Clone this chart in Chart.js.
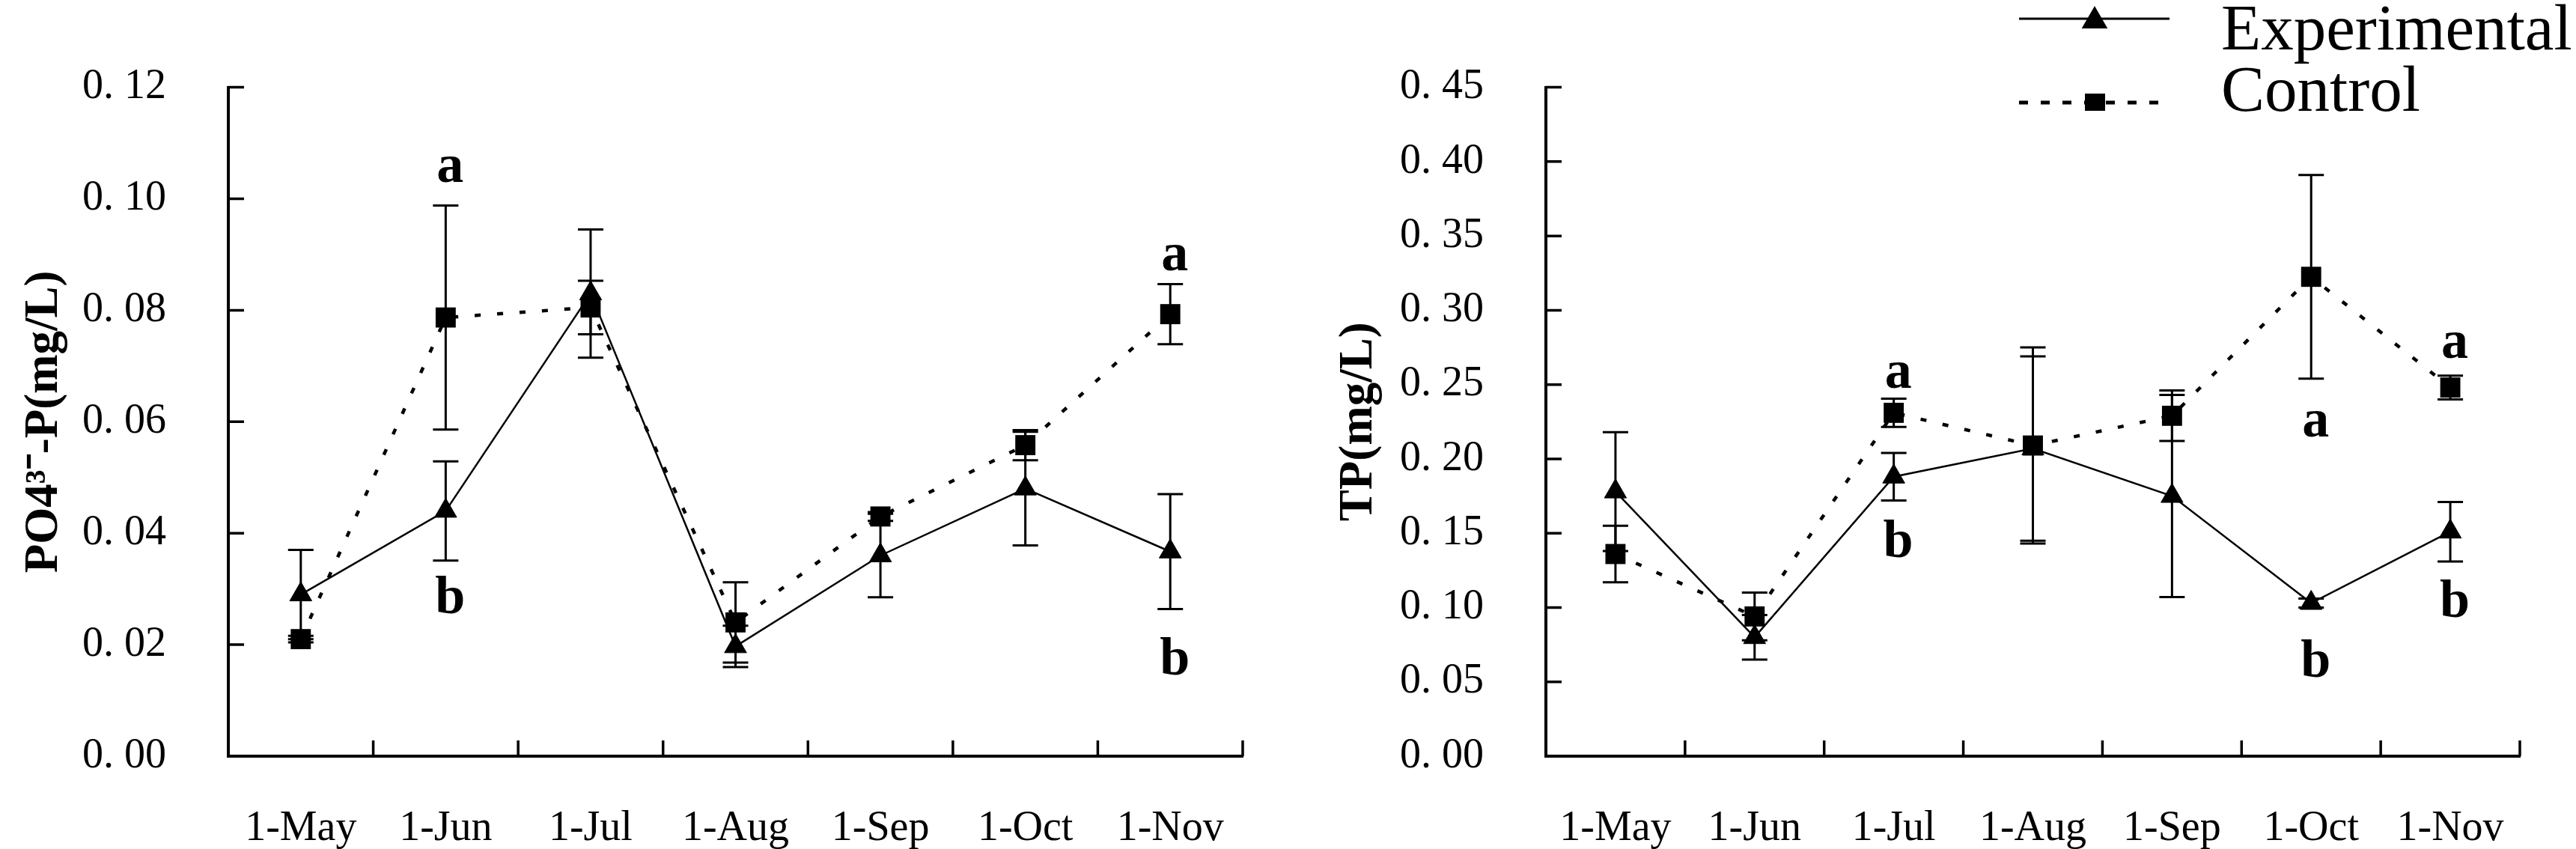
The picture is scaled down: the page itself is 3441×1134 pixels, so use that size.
<!DOCTYPE html>
<html>
<head>
<meta charset="utf-8">
<script src="https://cdn.jsdelivr.net/npm/chart.js@4.4.1/dist/chart.umd.min.js"></script>
<style>
html,body{margin:0;padding:0;background:#fff;}
#wrap{position:relative;width:3441px;height:1134px;background:#fff;overflow:hidden;}
canvas{position:absolute;top:0;}
</style>
</head>
<body>
<div id="wrap">
<canvas id="c1" width="1720" height="1134" style="left:0px;width:1720px;height:1134px"></canvas>
<canvas id="c2" width="1721" height="1134" style="left:1720px;width:1721px;height:1134px"></canvas>
</div>
<script>
// ---------- data ----------
const categories = ['1-May', '1-Jun', '1-Jul', '1-Aug', '1-Sep', '1-Oct', '1-Nov'];

const po4Exp     = [0.029, 0.044, 0.083, 0.0197, 0.036, 0.048, 0.0367];
const po4ExpErr  = [0.008, 0.0089, 0.0115, 0.0037, 0.0075, 0.0102, 0.0103];
const po4Ctrl    = [0.021, 0.0787, 0.0805, 0.024, 0.043, 0.0558, 0.0793];
const po4CtrlErr = [0.0006, 0.0201, 0.0048, 0.0072, 0.0008, 0.0027, 0.0054];

const tpExp      = [0.178, 0.080, 0.188, 0.207, 0.175, 0.103, 0.151];
const tpExpErr   = [0.040, 0.015, 0.016, 0.062, 0.068, 0.003, 0.020];
const tpCtrl     = [0.136, 0.094, 0.231, 0.209, 0.229, 0.3225, 0.248];
const tpCtrlErr  = [0.019, 0.016, 0.0095, 0.066, 0.017, 0.0685, 0.008];

const po4TickLabels = ['0. 00', '0. 02', '0. 04', '0. 06', '0. 08', '0. 10', '0. 12'];
const tpTickLabels  = ['0. 00', '0. 05', '0. 10', '0. 15', '0. 20', '0. 25', '0. 30', '0. 35', '0. 40', '0. 45'];

// significance letters (category index, value at letter baseline, text)
const po4LetterIdx  = [1, 1, 6, 6];
const po4LetterVal  = [0.103, 0.0256, 0.0872, 0.0146];
const po4LetterText = ['a', 'b', 'a', 'b'];

const tpLetterIdx  = [2, 2, 5, 5, 6, 6];
const tpLetterVal  = [0.248, 0.134, 0.215, 0.0535, 0.268, 0.0939];
const tpLetterText = ['a', 'b', 'a', 'b', 'a', 'b'];

const seriesNames = ['Experimental', 'Control'];

// ---------- plugins ----------
const FONT = '"Liberation Serif", "Times New Roman", serif';

const errorBars = {
  id: 'errorBars',
  beforeDatasetsDraw(chart, args, opts) {
    const {ctx, scales: {x, y}} = chart;
    ctx.save();
    ctx.strokeStyle = '#000';
    ctx.lineWidth = 3;
    opts.sets.forEach(s => {
      s.values.forEach((v, i) => {
        const e = s.errors[i];
        const px = x.getPixelForValue(i);
        const pt = y.getPixelForValue(v + e);
        const pb = y.getPixelForValue(v - e);
        const cw = 17;
        ctx.beginPath();
        ctx.moveTo(px, pt); ctx.lineTo(px, pb);
        ctx.moveTo(px - cw, pt); ctx.lineTo(px + cw, pt);
        ctx.moveTo(px - cw, pb); ctx.lineTo(px + cw, pb);
        ctx.stroke();
      });
    });
    ctx.restore();
  }
};

const innerTicks = {
  id: 'innerTicks',
  afterDraw(chart) {
    const {ctx, chartArea, scales: {x, y}} = chart;
    ctx.save();
    ctx.strokeStyle = '#000';
    ctx.lineWidth = 3.5;
    ctx.beginPath();
    y.ticks.forEach(t => {
      const py = y.getPixelForValue(t.value);
      if (Math.abs(py - chartArea.bottom) < 2) return;
      ctx.moveTo(chartArea.left, py);
      ctx.lineTo(chartArea.left + 21, py);
    });
    for (let i = 1; i <= categories.length; i++) {
      const px = x.getPixelForValue(i - 0.5);
      ctx.moveTo(px, chartArea.bottom);
      ctx.lineTo(px, chartArea.bottom - 21);
    }
    ctx.stroke();
    ctx.restore();
  }
};

const letters = {
  id: 'letters',
  afterDraw(chart, args, opts) {
    const {ctx, scales: {x, y}} = chart;
    ctx.save();
    ctx.fillStyle = '#000';
    ctx.font = 'bold 72px ' + FONT;
    ctx.textAlign = 'center';
    ctx.textBaseline = 'alphabetic';
    opts.idx.forEach((ci, k) => {
      ctx.fillText(opts.text[k], x.getPixelForValue(ci) + 6, y.getPixelForValue(opts.val[k]));
    });
    ctx.restore();
  }
};

const legendBox = {
  id: 'legendBox',
  afterDraw(chart, args, opts) {
    if (!opts.show) return;
    const ctx = chart.ctx;
    ctx.save();
    ctx.strokeStyle = '#000';
    ctx.fillStyle = '#000';
    // experimental: solid line + triangle
    ctx.lineWidth = 3;
    ctx.setLineDash([]);
    ctx.beginPath(); ctx.moveTo(977, 25); ctx.lineTo(1178, 25); ctx.stroke();
    Chart.helpers.drawPoint(ctx, {pointStyle: 'triangle', radius: 17, borderWidth: 1}, 1078, 28);
    ctx.fill();
    // control: dashed line + square
    ctx.lineWidth = 5;
    ctx.setLineDash([12, 17]);
    ctx.beginPath(); ctx.moveTo(977, 137); ctx.lineTo(1175, 137); ctx.stroke();
    ctx.setLineDash([]);
    ctx.fillRect(1065, 125, 27, 23);
    ctx.font = '87px ' + FONT;
    ctx.textAlign = 'left';
    ctx.textBaseline = 'alphabetic';
    ctx.fillText(seriesNames[0], 1247, 66);
    ctx.fillText(seriesNames[1], 1247, 148);
    ctx.restore();
  }
};

function makeChart(id, cfg) {
  const expDs = {
    label: seriesNames[0], data: cfg.exp,
    borderColor: '#000', backgroundColor: '#000', borderWidth: 2.5,
    pointStyle: 'triangle', pointRadius: 17, pointBorderWidth: 1,
    pointBackgroundColor: '#000', pointBorderColor: '#000', tension: 0, clip: false
  };
  const ctrlDs = {
    label: seriesNames[1], data: cfg.ctrl,
    borderColor: '#000', backgroundColor: '#000', borderWidth: 4.5, borderDash: [8, 22],
    pointStyle: 'rect', pointRadius: 19, pointBorderWidth: 0,
    pointBackgroundColor: '#000', pointBorderColor: '#000', tension: 0, clip: false
  };
  return new Chart(document.getElementById(id), {
    type: 'line',
    data: {labels: categories, datasets: [ctrlDs, expDs]},
    plugins: [errorBars, innerTicks, letters, legendBox],
    options: {
      responsive: false, animation: false, devicePixelRatio: 1,
      layout: {padding: {left: 0, top: cfg.top, right: cfg.right, bottom: 0}},
      plugins: {
        legend: {display: false}, tooltip: {enabled: false},
        errorBars: {sets: [{values: cfg.exp, errors: cfg.expErr}, {values: cfg.ctrl, errors: cfg.ctrlErr}]},
        letters: {idx: cfg.letterIdx, val: cfg.letterVal, text: cfg.letterText},
        legendBox: {show: cfg.legend}
      },
      scales: {
        x: {
          type: 'category', offset: true,
          grid: {display: false, drawTicks: false, offset: true},
          border: {display: true, color: '#000', width: 4},
          ticks: {color: '#000', font: {family: FONT, size: 56}, padding: 64, autoSkip: false, maxRotation: 0, minRotation: 0},
          afterFit(s) { s.height = 124; }
        },
        y: {
          min: 0, max: cfg.max,
          grid: {display: false, drawTicks: false},
          border: {display: true, color: '#000', width: 4},
          ticks: {
            stepSize: cfg.step, color: '#000', font: {family: FONT, size: 56}, padding: 83,
            callback: (v, i) => cfg.tickLabels[i]
          },
          title: {display: true, text: cfg.title, color: '#000',
                  font: {family: FONT, size: 63, weight: 'bold'}, padding: {top: cfg.titlePad, bottom: 0}},
          afterFit(s) { s.width = cfg.yWidth; }
        }
      }
    }
  });
}

makeChart('c1', {
  exp: po4Exp, expErr: po4ExpErr, ctrl: po4Ctrl, ctrlErr: po4CtrlErr,
  max: 0.12, step: 0.02, tickLabels: po4TickLabels,
  title: 'PO4\u00B3\u207B-P(mg/L)', titlePad: 22,
  top: 78, right: 60, yWidth: 305,
  letterIdx: po4LetterIdx, letterVal: po4LetterVal, letterText: po4LetterText,
  legend: false
});

makeChart('c2', {
  exp: tpExp, expErr: tpExpErr, ctrl: tpCtrl, ctrlErr: tpCtrlErr,
  max: 0.45, step: 0.05, tickLabels: tpTickLabels,
  title: 'TP(mg/L)', titlePad: 58,
  top: 85, right: 75, yWidth: 345,
  letterIdx: tpLetterIdx, letterVal: tpLetterVal, letterText: tpLetterText,
  legend: true
});
</script>
</body>
</html>
